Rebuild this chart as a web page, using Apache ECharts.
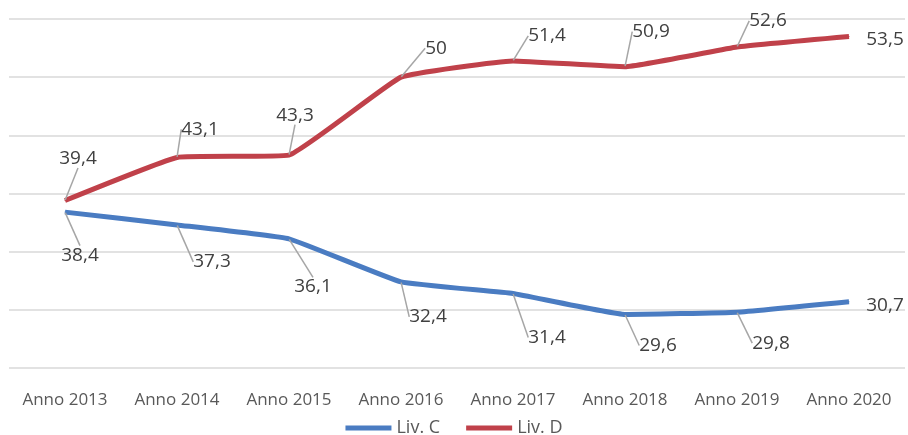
<!DOCTYPE html>
<html>
<head>
<meta charset="utf-8">
<script src="https://cdn.jsdelivr.net/npm/echarts@6/dist/echarts.min.js"></script>
<style>html,body{margin:0;padding:0;background:#fff}#c{width:908px;height:435px}</style>
</head>
<body>
<div id="c"></div>
<script>
var categories = ['Anno 2013','Anno 2014','Anno 2015','Anno 2016','Anno 2017','Anno 2018','Anno 2019','Anno 2020'];
var livC = [38.4, 37.3, 36.1, 32.4, 31.4, 29.6, 29.8, 30.7];
var livD = [39.4, 43.1, 43.3, 50, 51.4, 50.9, 52.6, 53.5];
var seriesNames = ['Liv. C', 'Liv. D'];

// label offsets (layout only): label centre relative to the point
var offC = [[15,43],[35,37],[24,48],[27,35],[34,44],[33,31],[34,31],[36,4]];
var offD = [[13,-42],[23,-28],[6,-40],[35,-29],[34,-25],[26,-35],[31,-26],[36,3]];

var chart = echarts.init(document.getElementById('c'));
var font = 'Open Sans';

function makeSeries(name, data, color, offs) {
  var items = data.map(function (v, i) {
    var it = { value: v };
    if (i === data.length - 1) it.labelLine = { show: false };
    return it;
  });
  return {
    name: name,
    type: 'line',
    data: items,
    smooth: 0.1,
    symbol: 'circle',
    symbolSize: 1,
    showSymbol: true,
    lineStyle: { color: color, width: 5 },
    itemStyle: { color: color },
    label: {
      show: true,
      position: 'inside',
      fontFamily: font,
      fontSize: 19,
      color: '#404040',
      formatter: function (p) { return String(p.value).replace('.', ','); }
    },
    labelLine: {
      show: true,
      lineStyle: { color: '#a6a6a6', width: 1.5 }
    },
    labelLayout: function (params) {
      var o = offs[params.dataIndex];
      return { dx: o[0], dy: o[1] };
    }
  };
}

chart.setOption({
  animation: false,
  backgroundColor: '#ffffff',
  grid: { left: 9, right: 3, top: 19, bottom: 67 },
  legend: {
    data: seriesNames,
    left: 'center',
    top: 414,
    icon: 'rect',
    itemWidth: 46,
    itemHeight: 5,
    itemGap: 26,
    textStyle: { fontFamily: font, fontSize: 18, color: '#595959' }
  },
  xAxis: {
    type: 'category',
    data: categories,
    boundaryGap: true,
    axisLine: { show: false },
    axisTick: { show: false },
    axisLabel: { fontFamily: font, fontSize: 17, color: '#595959', margin: 24 }
  },
  yAxis: {
    type: 'value',
    min: 25, max: 55, interval: 5,
    axisLabel: { show: false },
    axisLine: { show: false },
    axisTick: { show: false },
    splitLine: { lineStyle: { color: '#d9d9d9', width: 1.5 } }
  },
  series: [
    makeSeries(seriesNames[0], livC, '#4a7cc2', offC),
    makeSeries(seriesNames[1], livD, '#c0414a', offD)
  ]
});
</script>
</body>
</html>
